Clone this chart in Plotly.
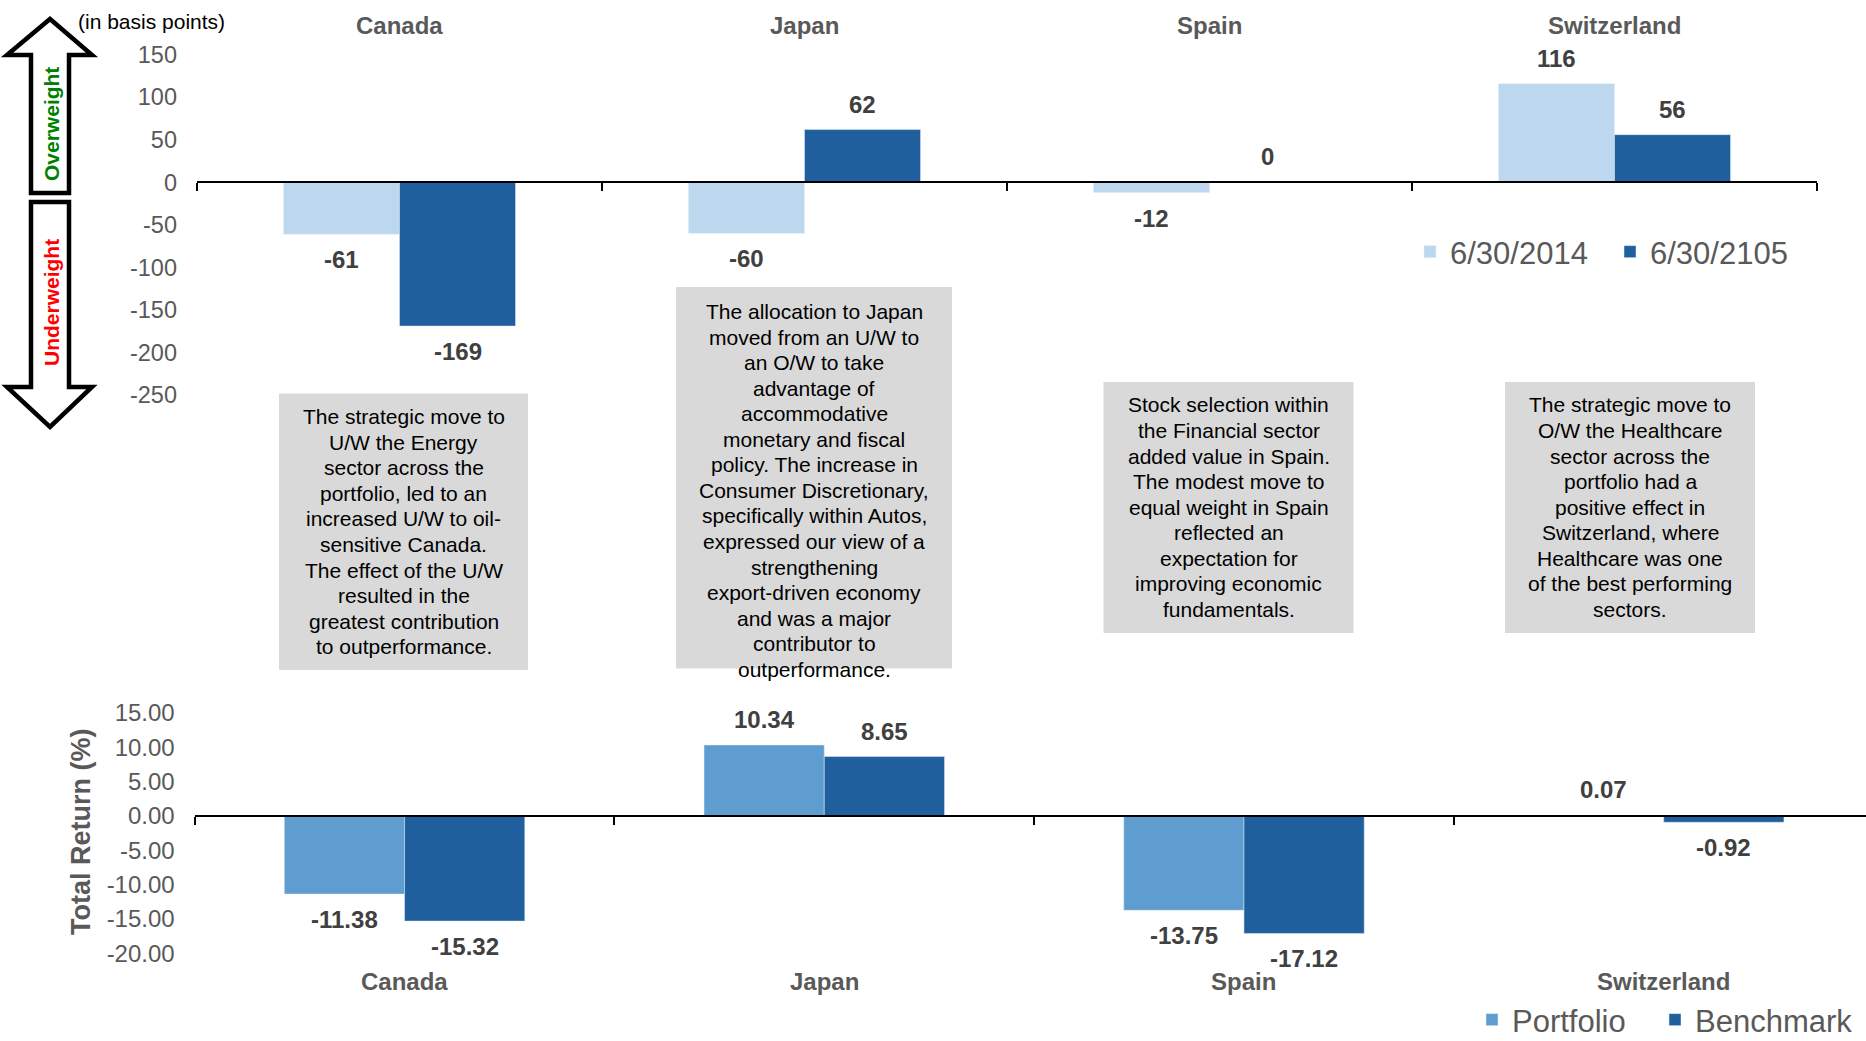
import plotly.graph_objects as go

# ---------------- data ----------------
countries = ["Canada", "Japan", "Spain", "Switzerland"]
weights_2014 = [-61, -60, -12, 116]
weights_2015 = [-169, 62, 0, 56]
ret_portfolio = [-11.38, 10.34, -13.75, 0.07]
ret_benchmark = [-15.32, 8.65, -17.12, -0.92]
top_ticks = [150, 100, 50, 0, -50, -100, -150, -200, -250]
bottom_ticks = [15, 10, 5, 0, -5, -10, -15, -20]
names_top = ["6/30/2014", "6/30/2105"]
names_bottom = ["Portfolio", "Benchmark"]
notes = [
    ["The strategic move to", "U/W the Energy", "sector across the", "portfolio, led to an",
     "increased U/W to oil-", "sensitive Canada.", "The effect of the U/W", "resulted in the",
     "greatest contribution", "to outperformance."],
    ["The allocation to Japan", "moved from an U/W to", "an O/W to take", "advantage of",
     "accommodative", "monetary and fiscal", "policy. The increase in",
     "Consumer Discretionary,", "specifically within Autos,", "expressed our view of a",
     "strengthening", "export-driven economy", "and was a major", "contributor to",
     "outperformance."],
    ["Stock selection within", "the Financial sector", "added value in Spain.",
     "The modest move to", "equal weight in Spain", "reflected an", "expectation for",
     "improving economic", "fundamentals."],
    ["The strategic move to", "O/W the Healthcare", "sector across the", "portfolio had a",
     "positive effect in", "Switzerland, where", "Healthcare was one",
     "of the best performing", "sectors."],
]

# ---------------- layout geometry ----------------
W, H = 1866, 1041
FONT = "Liberation Sans, Arial, sans-serif"
GRAY = "#595959"
LABEL = "#404040"
LIGHT = "#BDD7EE"
DARK = "#1F5F9E"
MID = "#5F9DD1"
BARGAP = 0.427


def X(px):
    return px / W


def Y(py):
    return 1 - py / H


# plot areas in px
t_x0, t_x1, t_y0, t_y1 = 197, 1817, 54.7, 395
b_x0, b_x1, b_y0, b_y1 = 194.7, 1866, 713, 953.2
t_range = [-250, 150]
b_range = [-20, 15]
t_xrange = [-0.5, 3.5]
b_xrange = [-0.5, 3.482]
t_dom = [Y(t_y1), Y(t_y0)]
b_dom = [Y(b_y1), Y(b_y0)]
t_zero = t_dom[0] + (0 - t_range[0]) / (t_range[1] - t_range[0]) * (t_dom[1] - t_dom[0])
b_zero = b_dom[0] + (0 - b_range[0]) / (b_range[1] - b_range[0]) * (b_dom[1] - b_dom[0])

fig = go.Figure()
fig.add_trace(go.Bar(x=countries, y=weights_2014, name=names_top[0], marker_color=LIGHT,
                     xaxis="x", yaxis="y", legend="legend"))
fig.add_trace(go.Bar(x=countries, y=weights_2015, name=names_top[1], marker_color=DARK,
                     xaxis="x", yaxis="y", legend="legend"))
fig.add_trace(go.Bar(x=countries, y=ret_portfolio, name=names_bottom[0], marker_color=MID,
                     xaxis="x2", yaxis="y2", legend="legend2"))
fig.add_trace(go.Bar(x=countries, y=ret_benchmark, name=names_bottom[1], marker_color=DARK,
                     xaxis="x2", yaxis="y2", legend="legend3"))

annotations = []
shapes = []


def ptext(px, py, text, size, color, angle=0, xanchor="center"):
    annotations.append(dict(x=X(px), y=Y(py), xref="paper", yref="paper", text=text,
                            showarrow=False, xanchor=xanchor, yanchor="middle",
                            textangle=angle, font=dict(family=FONT, size=size, color=color)))


# data labels
t_bw = (t_x1 - t_x0) / (t_xrange[1] - t_xrange[0]) * (1 - BARGAP) / 2
b_bw = (b_x1 - b_x0) / (b_xrange[1] - b_xrange[0]) * (1 - BARGAP) / 2
for series, sgn, xr, yr, bw, fmt in [
    (weights_2014, -1, "x", "y", t_bw, "{:.0f}"),
    (weights_2015, 1, "x", "y", t_bw, "{:.0f}"),
    (ret_portfolio, -1, "x2", "y2", b_bw, "{:.2f}"),
    (ret_benchmark, 1, "x2", "y2", b_bw, "{:.2f}"),
]:
    for c, v in zip(countries, series):
        annotations.append(dict(
            x=c, y=v, xref=xr, yref=yr, text="<b>" + fmt.format(v) + "</b>",
            showarrow=False, xanchor="center", yanchor="middle",
            xshift=sgn * bw / 2, yshift=25.5 if v >= 0 else -25.5,
            font=dict(family=FONT, size=24, color=LABEL)))

# category labels top and bottom
for c in countries:
    annotations.append(dict(x=c, y=Y(26), xref="x", yref="paper", text="<b>" + c + "</b>",
                            showarrow=False, xanchor="center", yanchor="middle",
                            font=dict(family=FONT, size=24, color=GRAY)))
    annotations.append(dict(x=c, y=Y(981), xref="x2", yref="paper", text="<b>" + c + "</b>",
                            showarrow=False, xanchor="center", yanchor="middle",
                            font=dict(family=FONT, size=24, color=GRAY)))

# units label
ptext(76, 21, "(in basis points)", 21, "#000000", xanchor="left")

# bottom y title
ptext(81, 832, "<b>Total Return (%)</b>", 27, GRAY, angle=-90)

# note boxes: (x0, x1, y0, y1, first line centre)
boxes = [(279, 528, 393.5, 670, 416.7), (676, 952, 287, 668.5, 311.5),
         (1103.5, 1353.5, 382, 633, 405), (1505, 1755, 382, 633, 405)]
LINE = 25.55
for (x0, x1, y0, y1, yfirst), lines in zip(boxes, notes):
    shapes.append(dict(type="rect", xref="paper", yref="paper", x0=X(x0), x1=X(x1),
                       y0=Y(y1), y1=Y(y0), fillcolor="#D9D9D9", line=dict(width=0),
                       layer="below"))
    for i, ln in enumerate(lines):
        ptext((x0 + x1) / 2, yfirst + i * LINE, ln, 21, "#000000")


# arrows
def path(pts):
    return "M" + " L".join(f"{X(px):.5f},{Y(py):.5f}" for px, py in pts) + " Z"


up = [(50, 19), (92, 55), (69, 55), (69, 193), (31, 193), (31, 55), (7, 55)]
down = [(31, 202), (69, 202), (69, 387), (92, 387), (50, 427), (7, 387), (31, 387)]
for p in (up, down):
    shapes.append(dict(type="path", xref="paper", yref="paper", path=path(p),
                       fillcolor="white", line=dict(color="black", width=4.5)))
ptext(51, 124, "<b>Overweight</b>", 21, "#008000", angle=-90)
ptext(51, 303, "<b>Underweight</b>", 21, "#FF0000", angle=-90)

axis_common = dict(showgrid=False, zeroline=False)
leg_font = dict(family=FONT, size=31, color=GRAY)

fig.update_layout(
    width=W, height=H, margin=dict(l=0, r=0, t=0, b=0, autoexpand=False),
    paper_bgcolor="white", plot_bgcolor="rgba(0,0,0,0)",
    barmode="group", bargap=BARGAP, bargroupgap=0,
    font=dict(family=FONT, color=GRAY),
    xaxis=dict(domain=[X(t_x0), X(t_x1)], anchor="free", position=t_zero, range=t_xrange,
               showline=True, linecolor="black", linewidth=2,
               ticks="outside", tickson="boundaries", ticklen=8, tickwidth=2,
               tickcolor="black", showticklabels=False, **axis_common),
    yaxis=dict(domain=t_dom, range=t_range, anchor="x", tickvals=top_ticks,
               ticktext=[str(v) for v in top_ticks], ticks="", showline=False,
               ticklabelstandoff=19,
               tickfont=dict(family=FONT, size=23.5, color=GRAY), **axis_common),
    xaxis2=dict(domain=[X(b_x0), X(b_x1)], anchor="free", position=b_zero, range=b_xrange,
                showline=True, linecolor="black", linewidth=2,
                ticks="outside", tickson="boundaries", ticklen=8, tickwidth=2,
                tickcolor="black", showticklabels=False, **axis_common),
    yaxis2=dict(domain=b_dom, range=b_range, anchor="x2", tickvals=bottom_ticks,
                ticktext=[f"{v:.2f}" for v in bottom_ticks], ticks="", showline=False,
                ticklabelstandoff=19,
                tickfont=dict(family=FONT, size=24, color=GRAY), **axis_common),
    legend=dict(x=X(1410), y=Y(252), xanchor="left", yanchor="middle", orientation="h",
                font=leg_font, bgcolor="rgba(0,0,0,0)", entrywidth=155, itemclick=False),
    legend2=dict(x=X(1472), y=Y(1020), xanchor="left", yanchor="middle", orientation="h",
                 font=leg_font, bgcolor="rgba(0,0,0,0)", itemclick=False),
    legend3=dict(x=X(1655), y=Y(1020), xanchor="left", yanchor="middle", orientation="h",
                 font=leg_font, bgcolor="rgba(0,0,0,0)", itemclick=False),
    annotations=annotations, shapes=shapes,
)

fig.write_html("out.html")
